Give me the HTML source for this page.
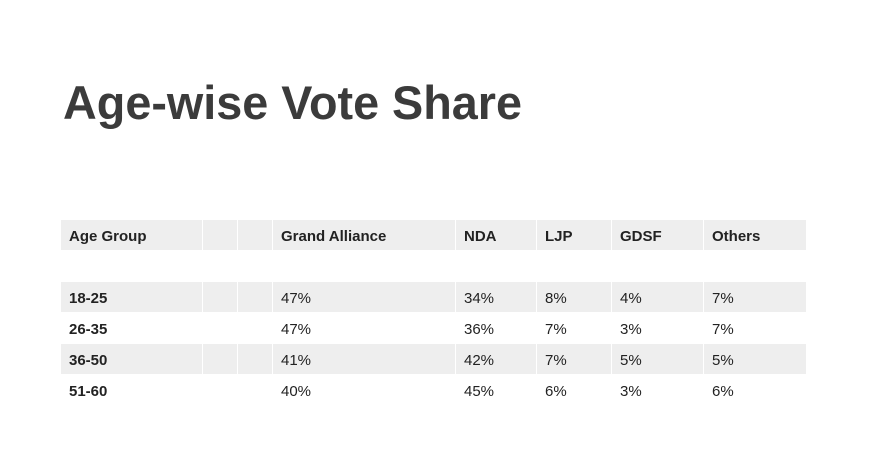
<!DOCTYPE html>
<html><head><meta charset="utf-8"><style>
html,body{margin:0;padding:0;background:#fff;width:873px;height:472px;overflow:hidden}
svg{display:block;font-family:"Liberation Sans",Arial,sans-serif}
</style></head><body>
<svg width="873" height="472">
<text x="63" y="119" font-size="47" font-weight="bold" fill="#3b3b3b" textLength="459" lengthAdjust="spacingAndGlyphs">Age-wise Vote Share</text>
<g id="tbl"></g>
</svg>
<script>
const headers=["Age Group","","","Grand Alliance","NDA","LJP","GDSF","Others"];
const ageGroups=["18-25","26-35","36-50","51-60"];
const grandAlliance=[47,47,41,40];
const nda=[34,36,42,45];
const ljp=[8,7,7,6];
const gdsf=[4,3,5,3];
const others=[7,7,5,6];
const colX=[61,203,238,273,456,537,612,704,807];
const g=document.getElementById('tbl');
const NS='http://www.w3.org/2000/svg';
function cell(x,y,w,h,fill,name){const r=document.createElementNS(NS,'rect');r.setAttribute('x',x);r.setAttribute('y',y);r.setAttribute('width',w);r.setAttribute('height',h);r.setAttribute('fill',fill);


g.appendChild(r);}
function txt(x,y,s,bold,name){const t=document.createElementNS(NS,'text');t.setAttribute('x',x);t.setAttribute('y',y);t.setAttribute('font-size','15');t.setAttribute('fill','#222');if(bold)t.setAttribute('font-weight','bold');t.textContent=s;


g.appendChild(t);}
for(let c=0;c<8;c++){cell(colX[c],220,colX[c+1]-colX[c]-1,30,'#eeeeee','header-cell');txt(colX[c]+8,241,headers[c],true,'header-label');}
const rowY=[282,313,344,375];
ageGroups.forEach((a,i)=>{
 const vals=[a,'','',grandAlliance[i]+'%',nda[i]+'%',ljp[i]+'%',gdsf[i]+'%',others[i]+'%'];
 for(let c=0;c<8;c++){
  if(i%2===0)cell(colX[c],rowY[i],colX[c+1]-colX[c]-1,30,'#eeeeee','row-cell');
  if(vals[c])txt(colX[c]+8,rowY[i]+21,vals[c],c===0,'cell-value');
 }
});
</script>
</body></html>
